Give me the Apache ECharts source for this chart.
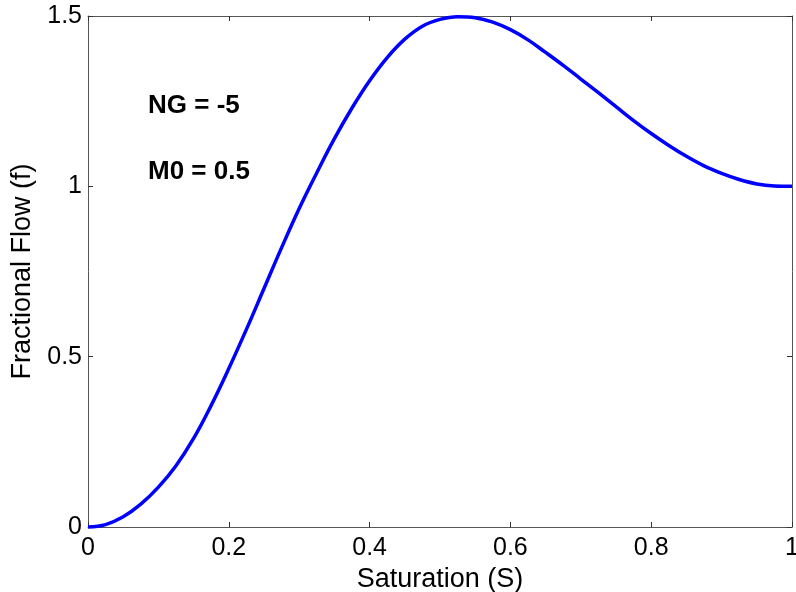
<!DOCTYPE html>
<html>
<head>
<meta charset="utf-8">
<script src="https://cdn.jsdelivr.net/npm/echarts@6/dist/echarts.min.js"></script>
<style>
html,body{margin:0;padding:0;background:#fff;}
#chart{width:796px;height:592px;}
</style>
</head>
<body>
<div id="chart"></div>
<script>
const saturation = [0, 0.025, 0.05, 0.075, 0.1, 0.125, 0.15, 0.175, 0.2, 0.225, 0.25, 0.275, 0.3, 0.325, 0.35, 0.375, 0.4, 0.425, 0.45, 0.475, 0.5, 0.525, 0.55, 0.575, 0.6, 0.625, 0.65, 0.675, 0.7, 0.725, 0.75, 0.775, 0.8, 0.825, 0.85, 0.875, 0.9, 0.925, 0.95, 0.975, 1.0];
const fracFlow = [0, 0.007, 0.03, 0.067, 0.117, 0.18, 0.26, 0.357, 0.465, 0.58, 0.70, 0.82, 0.935, 1.04, 1.14, 1.23, 1.31, 1.378, 1.432, 1.47, 1.49, 1.498, 1.495, 1.482, 1.46, 1.43, 1.393, 1.355, 1.315, 1.275, 1.234, 1.193, 1.155, 1.12, 1.088, 1.06, 1.038, 1.02, 1.007, 1.001, 1.0];
const annotations = ["NG = -5", "M0 = 0.5"];
const xTitle = "Saturation (S)";
const yTitle = "Fractional Flow (f)";

const font = "'Liberation Sans', Arial, sans-serif";
const chart = echarts.init(document.getElementById('chart'), null, {renderer: 'canvas'});
const axisLineStyle = {onZero: false, lineStyle: {color: '#555', width: 1}};
const tick = {show: true, inside: true, length: 5, lineStyle: {color: '#333'}};
chart.setOption({
  animation: false,
  backgroundColor: '#fff',
  grid: {left: 88, right: 4, top: 16, bottom: 65, containLabel: false, outerBoundsMode: 'none'},
  xAxis: [{
    type: 'value', min: 0, max: 1, interval: 0.2, position: 'bottom',
    axisLine: axisLineStyle, axisTick: tick, splitLine: {show: false},
    axisLabel: {color: '#000', fontSize: 25, fontFamily: font, margin: 9},
    name: xTitle, nameLocation: 'middle', nameGap: 36,
    nameTextStyle: {color: '#000', fontSize: 27, fontFamily: font}
  }, {
    type: 'value', min: 0, max: 1, interval: 0.2, position: 'top',
    axisLine: axisLineStyle, axisTick: tick, splitLine: {show: false},
    axisLabel: {show: false}
  }],
  yAxis: [{
    type: 'value', min: 0, max: 1.5, interval: 0.5, position: 'left',
    axisLine: axisLineStyle, axisTick: tick, splitLine: {show: false},
    axisLabel: {color: '#000', fontSize: 25, fontFamily: font, margin: 6},
    name: yTitle, nameLocation: 'middle', nameGap: 50,
    nameTextStyle: {color: '#000', fontSize: 27, fontFamily: font}
  }, {
    type: 'value', min: 0, max: 1.5, interval: 0.5, position: 'right',
    axisLine: axisLineStyle, axisTick: tick, splitLine: {show: false},
    axisLabel: {show: false}
  }],
  graphic: [
    {type: 'text', left: 148, top: 93, style: {text: annotations[0], fill: '#000', font: 'bold 26px ' + font}},
    {type: 'text', left: 148, top: 159, style: {text: annotations[1], fill: '#000', font: 'bold 26px ' + font}}
  ],
  series: [{
    type: 'line', xAxisIndex: 0, yAxisIndex: 0,
    data: saturation.map((s, i) => [s, fracFlow[i]]),
    smooth: 0.4, showSymbol: false, clip: false,
    lineStyle: {color: '#0000ff', width: 3.5}
  }]
});
</script>
</body>
</html>
